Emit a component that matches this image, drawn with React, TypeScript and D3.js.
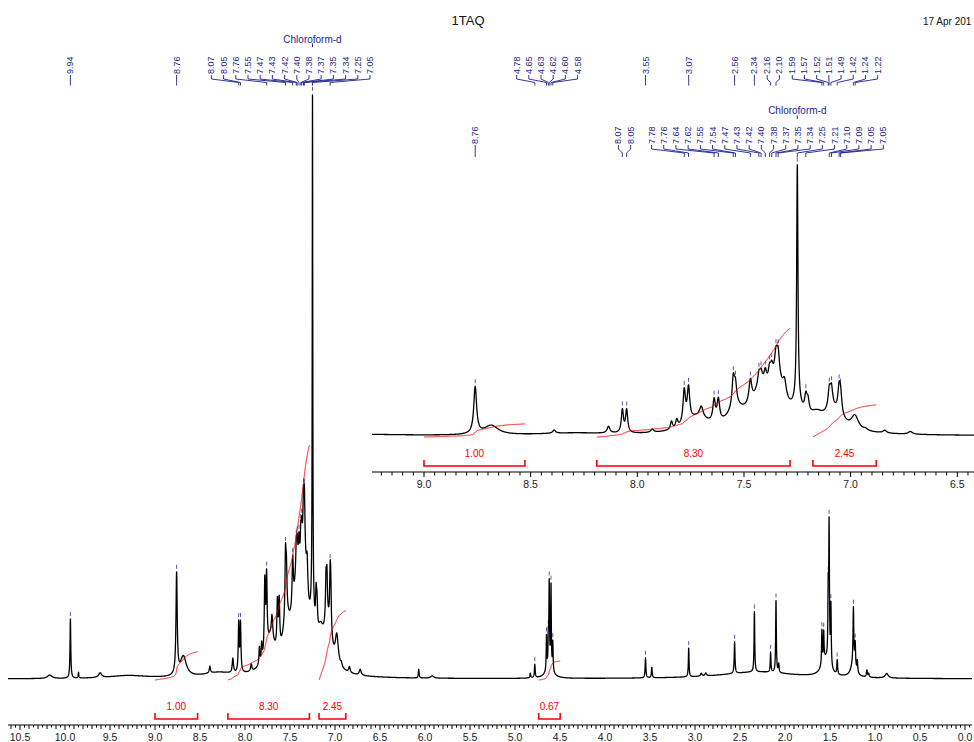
import React, { useMemo } from 'react';
import * as d3 from 'd3';

const WIDTH = 974;
const HEIGHT = 742;

// ---- Spectrum components: position (ppm), height (CDCl3 = 100), half width (ppm)
const peakPpm = [
  10.17, 9.94, 9.85, 9.61, 9.3, 8.76, 8.685, 8.39, 8.3, 8.135, 8.07, 8.05, 7.93, 7.84, 7.815,
  7.78, 7.76, 7.72, 7.7, 7.64, 7.62, 7.55, 7.54, 7.54, 7.47, 7.43, 7.42, 7.42, 7.4, 7.4,
  7.38, 7.37, 7.35, 7.345, 7.34, 7.31, 7.25, 7.25, 7.21, 7.2, 7.16, 7.1, 7.09, 7.08, 7.054,
  7.047, 6.98, 6.93, 6.84, 6.72, 6.07, 5.92, 4.83, 4.78, 4.65, 4.63, 4.62, 4.62, 4.6, 4.58,
  3.55, 3.48, 3.07, 2.93, 2.88, 2.56, 2.3, 2.34, 2.16, 2.1, 2.07, 1.59, 1.57, 1.55, 1.52,
  1.51, 1.49, 1.42, 1.24, 1.24, 1.22, 1.196, 1.09, 1.07, 0.87,
];
const peakHeight = [
  0.6, 10.3, 1.0, 0.8, 0.5, 17.5, 3.5, 1.2, 0.8, 2.5, 8.5, 8.5, 1.2, 3, 3,
  12.5, 12.5, 5, 4, 8, 8, 10.5, 7, 5, 8.5, 4.5, 3.5, 7, 9, 4.5,
  5, 4.5, 7, 12, 8, 6, 89, 5, 6, 4.5, 4, 7, 7, 7, 8.5,
  7, 5, 0.6, 1.0, 1.0, 1.5, 0.4, 0.8, 2.3, 6, 5, 14.5, 1.5, 14.5, 5,
  3.5, 1.8, 5, 0.5, 0.5, 5.5, 1.2, 10.5, 3.5, 12.5, 1.5, 6, 5, 3, 11.5,
  23.5, 10.5, 2.5, 9.5, 2.5, 4, 2, 1.2, 0.6, 0.8,
];
const peakHwhm = [
  0.03, 0.005, 0.004, 0.02, 0.25, 0.008, 0.04, 0.008, 0.2, 0.008, 0.006, 0.006, 0.008, 0.006, 0.006,
  0.007, 0.007, 0.06, 0.01, 0.007, 0.007, 0.007, 0.007, 0.04, 0.008, 0.007, 0.007, 0.04, 0.13, 0.007,
  0.007, 0.007, 0.007, 0.035, 0.007, 0.01, 0.0035, 0.03, 0.007, 0.007, 0.04, 0.007, 0.007, 0.05, 0.007,
  0.007, 0.02, 0.01, 0.01, 0.012, 0.005, 0.02, 0.005, 0.005, 0.004, 0.004, 0.004, 0.05, 0.004, 0.004,
  0.005, 0.005, 0.0045, 0.01, 0.01, 0.005, 0.5, 0.0045, 0.0045, 0.0045, 0.005, 0.0045, 0.0045, 0.05, 0.0045,
  0.0045, 0.0045, 0.005, 0.005, 0.03, 0.005, 0.005, 0.006, 0.006, 0.02,
];

// ---- Peak labels
const mainLabelPpm = [
  9.94, 8.76, 8.07, 8.05, 7.76, 7.55, 7.47, 7.43, 7.42, 7.4, 7.38, 7.37, 7.35, 7.34, 7.25, 7.054,
  4.78, 4.65, 4.63, 4.62, 4.6, 4.58, 3.55, 3.07, 2.56, 2.34, 2.16, 2.1,
  1.59, 1.57, 1.52, 1.51, 1.49, 1.42, 1.24, 1.22,
];
const insetLabelPpm = [
  8.76, 8.07, 8.05, 7.78, 7.76, 7.64, 7.62, 7.55, 7.54, 7.47, 7.43, 7.42, 7.4, 7.38, 7.37,
  7.35, 7.34, 7.25, 7.21, 7.1, 7.09, 7.054, 7.047,
];
const solventPpm = 7.25;
const solventName = 'Chloroform-d';

// ---- Integrals
const integralFrom = [9.0, 8.19, 7.177, 4.737];
const integralTo = [8.527, 7.284, 6.88, 4.498];
const integralValue = [1.0, 8.3, 2.45, 0.67];
const insetIntegralCount = 3;

// ---- Axis ticks
const mainTickLabels = ['10.5', '10.0', '9.5', '9.0', '8.5', '8.0', '7.5', '7.0', '6.5', '6.0', '5.5', '5.0', '4.5', '4.0', '3.5', '3.0', '2.5', '2.0', '1.5', '1.0', '0.5', '0.0'];
const insetTickLabels = ['9.0', '8.5', '8.0', '7.5', '7.0', '6.5'];

const title = '1TAQ';
const dateText = '17 Apr 201';

const FONT = "'Liberation Sans', Arial, Helvetica, sans-serif";
const NAVY = '#1e1e8c';
const MARK = '#5a5ab4';
const RED = '#ff0000';

function intensity(ppm: number): number {
  let s = 0;
  for (let i = 0; i < peakPpm.length; i++) {
    const d = (ppm - peakPpm[i]) / peakHwhm[i];
    s += peakHeight[i] / (1 + d * d);
  }
  return s;
}

function sampleRange(from: number, to: number, step: number): [number, number][] {
  const n = Math.round((from - to) / step);
  const out: [number, number][] = [];
  for (let i = 0; i <= n; i++) {
    const p = from - i * step;
    out.push([p, intensity(p)]);
  }
  return out;
}

function layoutLabels(xs: number[], spacing: number): number[] {
  type C = { start: number; n: number; sum: number };
  let clusters: C[] = xs.map((x, i) => ({ start: i, n: 1, sum: x }));
  let changed = true;
  while (changed) {
    changed = false;
    for (let i = 0; i < clusters.length - 1; i++) {
      const a = clusters[i];
      const b = clusters[i + 1];
      const aRight = a.sum / a.n + ((a.n - 1) * spacing) / 2;
      const bLeft = b.sum / b.n - ((b.n - 1) * spacing) / 2;
      if (bLeft - aRight < spacing) {
        clusters.splice(i, 2, { start: a.start, n: a.n + b.n, sum: a.sum + b.sum });
        changed = true;
        break;
      }
    }
  }
  const pos: number[] = new Array(xs.length);
  clusters.forEach((c) => {
    const center = c.sum / c.n;
    for (let k = 0; k < c.n; k++) pos[c.start + k] = center + (k - (c.n - 1) / 2) * spacing;
  });
  return pos;
}

type LabelGeom = { textY: number; top: number; knee: number; knee2: number; bottom: number };

function PeakLabels(props: {
  ppms: number[];
  x: (p: number) => number;
  y: (v: number) => number;
  geom: LabelGeom;
}) {
  const { ppms, x, y, geom } = props;
  const xs = ppms.map(x);
  const lx = layoutLabels(xs, 12.2);
  return (
    <g>
      {ppms.map((p, i) => (
        <g key={i}>
          <text
            transform={`translate(${lx[i]},${geom.textY}) rotate(-90)`}
            textAnchor="start"
            dominantBaseline="central"
            fontSize={9}
            fontFamily={FONT}
            fill={NAVY}
          >
            {p.toFixed(2)}
          </text>
          <path
            d={`M${lx[i]},${geom.top}V${geom.knee}L${xs[i]},${geom.knee2}V${geom.bottom}`}
            fill="none"
            stroke={NAVY}
            strokeWidth={0.9}
          />
          <line
            x1={xs[i]}
            x2={xs[i]}
            y1={y(intensity(p)) - 3}
            y2={y(intensity(p)) - 7}
            stroke={MARK}
            strokeWidth={1}
          />
        </g>
      ))}
    </g>
  );
}

function Axis(props: {
  x: d3.ScaleLinear<number, number>;
  y: number;
  x0: number;
  x1: number;
  labels: string[];
  fine: boolean;
}) {
  const { x, y, x0, x1, labels, fine } = props;
  const pLeft = x.invert(x0);
  const pRight = x.invert(x1);
  const ticks: { p: number; len: number }[] = [];
  const iStart = Math.ceil(Math.min(pLeft, pRight) / 0.05 - 1e-6);
  const iEnd = Math.floor(Math.max(pLeft, pRight) / 0.05 + 1e-6);
  for (let i = iStart; i <= iEnd; i++) {
    const p = i * 0.05;
    let len = fine ? 2.5 : 3.5;
    if (fine && i % 2 === 0) len = 4;
    if (i % 10 === 0) len = 5;
    ticks.push({ p, len });
  }
  return (
    <g>
      <line x1={x0} x2={x1} y1={y} y2={y} stroke="#000" strokeWidth={1.2} />
      {ticks.map((t, i) => (
        <line key={i} x1={x(t.p)} x2={x(t.p)} y1={y} y2={y + t.len} stroke="#000" strokeWidth={1} />
      ))}
      {labels.map((l, i) => (
        <text
          key={l + i}
          x={x(parseFloat(l))}
          y={y + 12}
          textAnchor="middle"
          dominantBaseline="central"
          fontSize={10.5}
          fontFamily={FONT}
          fill="#222"
        >
          {l}
        </text>
      ))}
    </g>
  );
}

export default function App() {
  const xMain = useMemo(() => d3.scaleLinear().domain([10.5, 0]).range([20, 965]), []);
  const yMain = useMemo(() => d3.scaleLinear().domain([0, 100]).range([679, 104]), []);
  const xInset = useMemo(() => d3.scaleLinear().domain([9, 6.5]).range([424, 957.3]), []);
  const yInset = useMemo(() => d3.scaleLinear().domain([0, 100]).range([436, 169]), []);

  const mainData = useMemo(() => sampleRange(xMain.invert(8), xMain.invert(972), 0.0005), [xMain]);
  const insetData = useMemo(() => sampleRange(xInset.invert(372), xInset.invert(974), 0.0004), [xInset]);

  const mainLine = d3
    .line<[number, number]>()
    .x((d) => xMain(d[0]))
    .y((d) => yMain(d[1]));
  const insetLine = d3
    .line<[number, number]>()
    .x((d) => xInset(d[0]))
    .y((d) => yInset(d[1]));

  const integrals = useMemo(
    () =>
      integralFrom.map((a, i) => {
        const pts = sampleRange(a, integralTo[i], 0.0005);
        let cum = 0;
        const c: [number, number][] = pts.map((d) => {
          cum += d[1];
          return [d[0], cum];
        });
        const total = cum;
        return c.map((d) => [d[0], d[1] / total] as [number, number]);
      }),
    []
  );

  const mainPxPerUnit = 28.3;
  const insetPxPerUnit = 13.1;

  return (
    <svg
      width={WIDTH}
      height={HEIGHT}
      style={{ position: 'fixed', left: 0, top: 0, background: '#fff' }}
      xmlns="http://www.w3.org/2000/svg"
    >
      <rect x={0} y={0} width={WIDTH} height={HEIGHT} fill="#fff" />
      <text x={468} y={20} textAnchor="middle" dominantBaseline="central" fontSize={13} fontFamily={FONT} fill="#111">
        {title}
      </text>
      <text x={923} y={21} textAnchor="start" dominantBaseline="central" fontSize={10} fontFamily={FONT} fill="#111">
        {dateText}
      </text>

      {/* ---------- main spectrum ---------- */}
      <text x={xMain(solventPpm)} y={39} textAnchor="middle" dominantBaseline="central" fontSize={10} fontFamily={FONT} fill={NAVY}>
        {solventName}
      </text>
      <line x1={xMain(solventPpm)} x2={xMain(solventPpm)} y1={43.5} y2={47} stroke={NAVY} strokeWidth={1} />
      <PeakLabels ppms={mainLabelPpm} x={xMain} y={yMain} geom={{ textY: 74, top: 75, knee: 79, knee2: 82.5, bottom: 85.5 }} />
      <path d={mainLine(mainData) || ''} fill="none" stroke="#000" strokeWidth={1.3} strokeLinejoin="round" />

      {integrals.map((c, i) => (
        <g key={'mi' + i}>
          <path
            d={
              d3
                .line<[number, number]>()
                .x((d) => xMain(d[0]))
                .y((d) => 680 - d[1] * integralValue[i] * mainPxPerUnit)(c) || ''
            }
            fill="none"
            stroke={RED}
            strokeWidth={1}
          />
          <path
            d={`M${xMain(integralFrom[i])},713V719H${xMain(integralTo[i])}V713`}
            fill="none"
            stroke={RED}
            strokeWidth={1.6}
          />
          <text
            x={(xMain(integralFrom[i]) + xMain(integralTo[i])) / 2}
            y={706}
            textAnchor="middle"
            dominantBaseline="central"
            fontSize={10}
            fontFamily={FONT}
            fill={RED}
          >
            {integralValue[i].toFixed(2)}
          </text>
        </g>
      ))}
      <Axis x={xMain} y={725} x0={8} x1={972} labels={mainTickLabels} fine={true} />

      {/* ---------- inset ---------- */}
      <text x={xInset(solventPpm)} y={110} textAnchor="middle" dominantBaseline="central" fontSize={10} fontFamily={FONT} fill={NAVY}>
        {solventName}
      </text>
      <line x1={xInset(solventPpm)} x2={xInset(solventPpm)} y1={115.5} y2={119} stroke={NAVY} strokeWidth={1} />
      <PeakLabels ppms={insetLabelPpm} x={xInset} y={yInset} geom={{ textY: 144, top: 145, knee: 149, knee2: 153, bottom: 157 }} />
      <path d={insetLine(insetData) || ''} fill="none" stroke="#000" strokeWidth={1.3} strokeLinejoin="round" />
      {integrals.slice(0, insetIntegralCount).map((c, i) => (
        <g key={'ii' + i}>
          <path
            d={
              d3
                .line<[number, number]>()
                .x((d) => xInset(d[0]))
                .y((d) => 437 - d[1] * integralValue[i] * insetPxPerUnit)(c) || ''
            }
            fill="none"
            stroke={RED}
            strokeWidth={1}
          />
          <path
            d={`M${xInset(integralFrom[i])},460V466H${xInset(integralTo[i])}V460`}
            fill="none"
            stroke={RED}
            strokeWidth={1.6}
          />
          <text
            x={(xInset(integralFrom[i]) + xInset(integralTo[i])) / 2}
            y={453}
            textAnchor="middle"
            dominantBaseline="central"
            fontSize={10}
            fontFamily={FONT}
            fill={RED}
          >
            {integralValue[i].toFixed(2)}
          </text>
        </g>
      ))}
      <Axis x={xInset} y={472} x0={372} x1={974} labels={insetTickLabels} fine={false} />
    </svg>
  );
}
